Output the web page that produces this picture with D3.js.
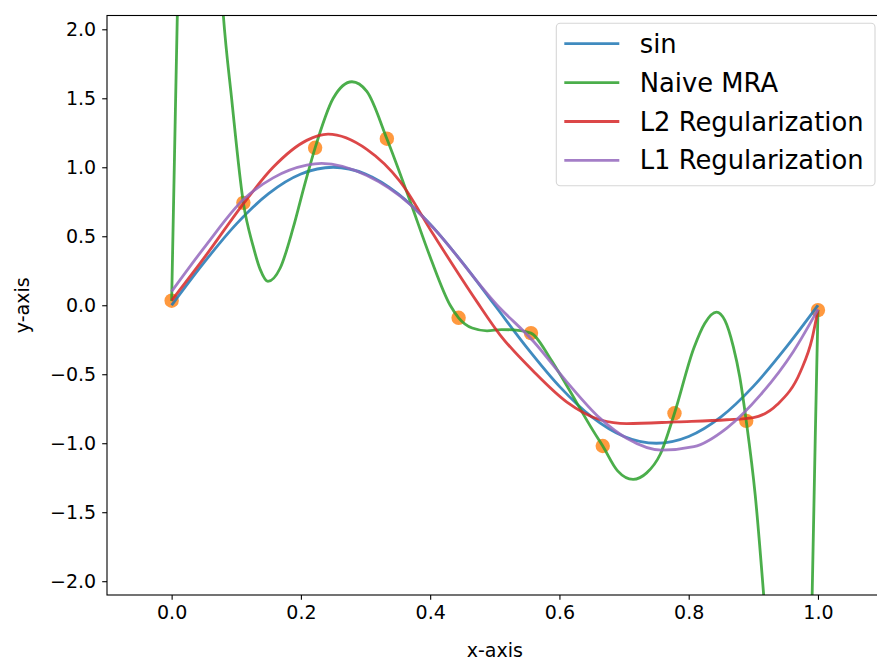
<!DOCTYPE html>
<html>
<head>
<meta charset="utf-8">
<script src="https://cdnjs.cloudflare.com/ajax/libs/d3/7.8.5/d3.min.js"></script>
<style>
body{margin:0;background:#fff;}
svg text{font-family:"DejaVu Sans",sans-serif;fill:#000;}
</style>
</head>
<body>
<div id="chart"></div>
<script>
// sample points (orange dots)
var pointX=[0,0.111,0.222,0.333,0.444,0.556,0.667,0.778,0.889,1.0];
var pointY=[0.033,0.742,1.141,1.207,-0.091,-0.202,-1.02,-0.783,-0.838,-0.035];

// curves
var sinX=[0,0.05,0.1,0.15,0.2,0.25,0.3,0.35,0.4,0.45,0.5,0.55,0.6,0.65,0.7,0.75,0.8,0.85,0.9,0.95,1.0];
var sinY=[0,0.309,0.588,0.809,0.951,1.0,0.951,0.809,0.588,0.309,0,-0.309,-0.588,-0.809,-0.951,-1.0,-0.951,-0.809,-0.588,-0.309,0];

var naiveX=[0,0.0044,0.0088,0.015,0.025,0.04,0.055,0.068,0.08,0.093,0.111,0.126,0.137,0.149,0.168,0.188,0.205,0.222,0.25,0.279,0.302,0.333,0.369,0.4,0.431,0.444,0.465,0.488,0.51,0.529,0.556,0.585,0.611,0.653,0.667,0.69,0.714,0.735,0.756,0.778,0.808,0.825,0.843,0.856,0.869,0.879,0.889,0.903,0.916,0.93,0.945,0.96,0.975,0.985,0.991,0.9958,1.0];
var naiveY=[0.03,1.07,2.1,3.2,4.2,4.4,3.9,3.0,2.1,1.49,0.742,0.43,0.26,0.173,0.27,0.56,0.86,1.141,1.50,1.62,1.55,1.207,0.754,0.35,0.0,-0.091,-0.165,-0.185,-0.177,-0.178,-0.202,-0.38,-0.58,-0.916,-1.02,-1.2,-1.262,-1.215,-1.08,-0.783,-0.31,-0.13,-0.05,-0.11,-0.30,-0.52,-0.838,-1.38,-2.1,-3.0,-3.9,-4.3,-4.0,-3.2,-2.1,-0.96,-0.035];

var l2X=[0,0.054,0.108,0.157,0.209,0.242,0.302,0.353,0.405,0.472,0.508,0.560,0.611,0.663,0.704,0.782,0.859,0.900,0.937,0.973,0.991,1.0];
var l2Y=[0.035,0.367,0.717,1.0,1.195,1.24,1.13,0.90,0.512,0.028,-0.214,-0.48,-0.70,-0.83,-0.858,-0.845,-0.83,-0.814,-0.72,-0.48,-0.24,-0.033];

var l1X=[0,0.054,0.111,0.157,0.209,0.232,0.302,0.369,0.405,0.503,0.560,0.611,0.663,0.704,0.758,0.808,0.859,0.911,0.962,1.0];
var l1Y=[0.10,0.44,0.766,0.923,1.015,1.028,0.94,0.73,0.56,0.004,-0.263,-0.553,-0.82,-0.964,-1.05,-1.025,-0.89,-0.65,-0.335,-0.03];

var seriesNames=["sin","Naive MRA","L2 Regularization","L1 Regularization"];
var seriesColors=["#1f77b4","#2ca02c","#d62728","#9467bd"];
var xTicks=[0,0.2,0.4,0.6,0.8,1.0];
var yTicks=[-2,-1.5,-1,-0.5,0,0.5,1,1.5,2];

function drawChart(){
	var W=877,H=662;
	var left=107,top=15.5,right=882.6,bottom=595;
	var svg=d3.select("#chart").append("svg").attr("width",W).attr("height",H);

	var x=d3.scaleLinear().domain([-0.1,1.1]).range([left,right]);
	var y=d3.scaleLinear().domain([-2.1,2.1]).range([bottom,top]);

	svg.append("defs").append("clipPath").attr("id","plotclip")
		.append("rect").attr("x",left).attr("y",top).attr("width",right-left).attr("height",bottom-top);

	var plot=svg.append("g").attr("clip-path","url(#plotclip)");

	// dots first, lines on top of them
	plot.selectAll("circle").data(d3.zip(pointX,pointY)).enter().append("circle")
		.attr("cx",d=>x(d[0])).attr("cy",d=>y(d[1])).attr("r",7.2)
		.attr("fill","#ff7f0e").attr("fill-opacity",0.8);

	var line=d3.line().x(d=>x(d[0])).y(d=>y(d[1])).curve(d3.curveMonotoneX);
	var series=[d3.zip(sinX,sinY),d3.zip(naiveX,naiveY),d3.zip(l2X,l2Y),d3.zip(l1X,l1Y)];
	series.forEach(function(s,i){
		plot.append("path").datum(s).attr("d",line)
			.attr("fill","none").attr("stroke",seriesColors[i])
			.attr("stroke-opacity",0.85).attr("stroke-width",2.8)
			.attr("stroke-linejoin","round").attr("stroke-linecap","butt");
	});

	// axes
	var fmt=function(d){return d3.format(".1f")(d).replace("-","\u2212");};
	var xAxis=d3.axisBottom(x).tickValues(xTicks).tickFormat(fmt).tickSize(4.8).tickPadding(6);
	var yAxis=d3.axisLeft(y).tickValues(yTicks).tickFormat(fmt).tickSize(4.8).tickPadding(6);
	var gx=svg.append("g").attr("transform","translate(0,"+bottom+")").call(xAxis);
	var gy=svg.append("g").attr("transform","translate("+left+",0)").call(yAxis);
	[gx,gy].forEach(function(g){
		g.select(".domain").remove();
		g.selectAll(".tick line").attr("stroke","#000").attr("stroke-width",1.1);
		g.selectAll(".tick text").style("font-size","19px").attr("fill","#000");
	});

	// spines
	svg.append("rect").attr("x",left).attr("y",top).attr("width",right-left).attr("height",bottom-top)
		.attr("fill","none").attr("stroke","#000").attr("stroke-width",1.1);

	svg.append("text").attr("x",(left+right)/2).attr("y",657).attr("text-anchor","middle")
		.style("font-size","19px").text("x-axis");
	svg.append("text").attr("transform","translate(29,"+((top+bottom)/2)+") rotate(-90)")
		.attr("text-anchor","middle").style("font-size","19px").text("y-axis");

	// legend
	var lg=svg.append("g");
	lg.append("rect").attr("x",556.3).attr("y",23.3).attr("width",318.7).attr("height",162.4)
		.attr("rx",4).attr("fill","#fff").attr("fill-opacity",0.8)
		.attr("stroke","#d6d6d6").attr("stroke-width",1.1);
	seriesNames.forEach(function(name,i){
		var ly=43.7+i*38.9;
		lg.append("line").attr("x1",564.3).attr("x2",619.3).attr("y1",ly).attr("y2",ly)
			.attr("stroke",seriesColors[i]).attr("stroke-opacity",0.85).attr("stroke-width",2.8);
		lg.append("text").attr("x",639.7).attr("y",ly+9).style("font-size","25.8px").text(name);
	});
}
drawChart();
</script>
</body>
</html>
